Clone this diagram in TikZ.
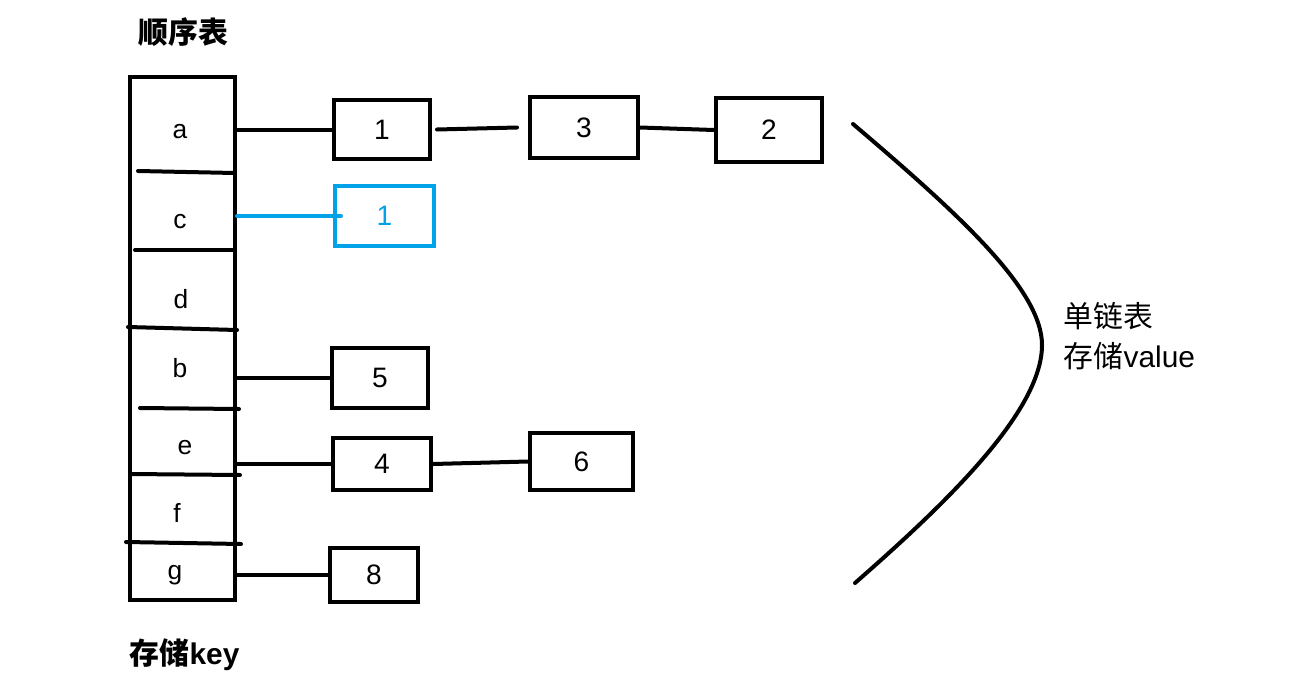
\documentclass[tikz,border=0pt]{standalone}
\usepackage{fontspec}
\setmainfont{Liberation Sans}
\newfontfamily\cjk{Noto Sans CJK SC}
\definecolor{paintblue}{RGB}{0,162,232}
\tikzset{
  cell/.style={font=\fontsize{15}{18}\selectfont},
  valbox/.style={draw, inner sep=0pt, font=\fontsize{16}{19}\selectfont},
}
\begin{document}
\begin{tikzpicture}[x=0.02cm, y=-0.02cm, line width=0.08cm, line cap=round]
  % dimensions
  \def\px{0.02cm} % un pixel de l'image
  \useasboundingbox (0,0) rectangle (1292,690);

  % titres
  \node[anchor=west, font=\bfseries\fontsize{17}{20}\selectfont] (title) at (131,32) {{\cjk 顺序表}};
  \node[anchor=west, font=\bfseries\fontsize{17}{20}\selectfont] (keynote) at (122,655) {{\cjk 存储}key};

  % colonne des clés
  \node[draw, line cap=butt, minimum width=105*\px, minimum height=523*\px] (col) at (182.5,338.5) {};
  \draw (138,171) -- (235,173);
  \draw (135,250) -- (235,250);
  \draw (128,327) -- (237,330);
  \draw (140,408) -- (239,409);
  \draw (130,474) -- (240,475);
  \draw (126,542) -- (241,544);

  \node[cell] (ka) at (180,132) {a};
  \node[cell] (kc) at (180,222) {c};
  \node[cell] (kd) at (181,299) {d};
  \node[cell] (kb) at (180,368) {b};
  \node[cell] (ke) at (185,448) {e};
  \node[cell] (kf) at (177,513) {f};
  \node[cell] (kg) at (175,575) {g};

  % valeurs
  \node[valbox, minimum width=96*\px, minimum height=59*\px] (va1) at (382,129.5) {1};
  \node[valbox, minimum width=108*\px, minimum height=61*\px] (va3) at (584,127.5) {3};
  \node[valbox, minimum width=106*\px, minimum height=64*\px] (va2) at (769,130) {2};
  \node[valbox, draw=paintblue, text=paintblue, minimum width=99*\px, minimum height=60*\px] (vc1) at (384.5,216) {1};
  \node[valbox, minimum width=96*\px, minimum height=60*\px] (vb5) at (380,378) {5};
  \node[valbox, minimum width=98*\px, minimum height=52*\px] (ve4) at (382,464) {4};
  \node[valbox, minimum width=103*\px, minimum height=57*\px] (ve6) at (581.5,461.5) {6};
  \node[valbox, minimum width=88*\px, minimum height=54*\px] (vg8) at (374,575) {8};

  % liaisons
  \draw (col.east |- va1.west) -- (va1.west);
  \draw ([xshift=5*\px]va1.east) -- ([xshift=-11*\px]va3.west);
  \draw (va3.east) -- (va2.west);
  \draw[paintblue] (col.east |- vc1.west) -- ([xshift=8*\px]vc1.west);
  \draw (col.east |- vb5.west) -- (vb5.west);
  \draw (col.east |- ve4.west) -- (ve4.west);
  \draw (ve4.east) -- (ve6.west);
  \draw (col.east |- vg8.west) -- (vg8.west);

  % accolade des listes
  \draw (853,124) .. controls (960,215) and (1042,290) .. (1042,345)
        .. controls (1042,410) and (950,500) .. (855,583);
  \node[anchor=west, align=left, font=\fontsize{17}{23}\selectfont] (chain) at (1056,336)
    {{\cjk 单链表}\\{\cjk 存储}value};
\end{tikzpicture}
\end{document}
